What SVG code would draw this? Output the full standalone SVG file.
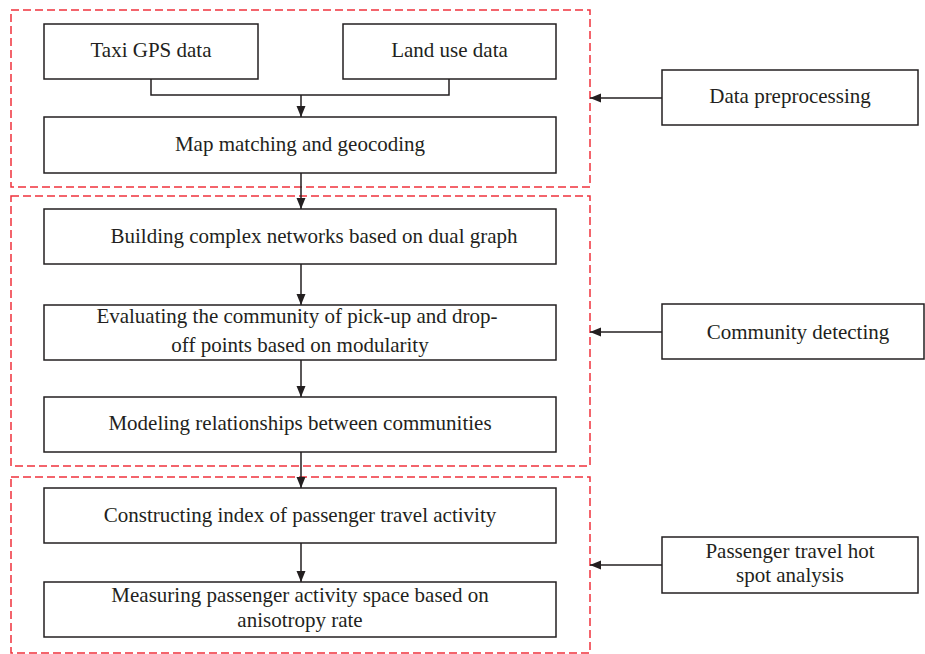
<svg xmlns="http://www.w3.org/2000/svg" width="925" height="654" viewBox="0 0 925 654">
<style>
.grp{fill:none;stroke:#f0323c;stroke-width:1.5;stroke-dasharray:8 4}
.box{fill:#fff;stroke:#231f20;stroke-width:1.5}
.ln{fill:none;stroke:#231f20;stroke-width:1.5}
text{font-family:"Liberation Serif","Times New Roman",serif;font-size:21px;fill:#231f20;text-anchor:middle}
</style>
<defs>
<marker id="ah" viewBox="0 0 11 10" refX="11" refY="5" markerWidth="11" markerHeight="10" markerUnits="userSpaceOnUse" orient="auto">
<path d="M0,0.5 L11,5 L0,9.5 Z" fill="#231f20"/>
</marker>
</defs>
<g id="groups">
<rect class="grp" x="11" y="10" width="579" height="177"/>
<rect class="grp" x="11" y="196" width="579" height="270"/>
<rect class="grp" x="11" y="477" width="579" height="176"/>
</g>
<g id="connectors">
<polyline class="ln" points="151,79 151,95 449,95 449,79"/>
<line class="ln" x1="301" y1="95" x2="301" y2="117" marker-end="url(#ah)"/>
<line class="ln" x1="301" y1="173" x2="301" y2="209" marker-end="url(#ah)"/>
<line class="ln" x1="301" y1="264" x2="301" y2="305" marker-end="url(#ah)"/>
<line class="ln" x1="301" y1="360" x2="301" y2="397" marker-end="url(#ah)"/>
<line class="ln" x1="301" y1="452" x2="301" y2="488" marker-end="url(#ah)"/>
<line class="ln" x1="301" y1="543" x2="301" y2="582" marker-end="url(#ah)"/>
<line class="ln" x1="662" y1="98" x2="590" y2="98" marker-end="url(#ah)"/>
<line class="ln" x1="662" y1="332" x2="590" y2="332" marker-end="url(#ah)"/>
<line class="ln" x1="662" y1="565" x2="590" y2="565" marker-end="url(#ah)"/>
</g>
<g id="taxi"><rect class="box" x="44" y="24" width="214" height="55"/><text x="151" y="57">Taxi GPS data</text></g>
<g id="landuse"><rect class="box" x="343" y="24" width="213" height="55"/><text x="449.5" y="57">Land use data</text></g>
<g id="mapmatch"><rect class="box" x="44" y="117" width="512" height="56"/><text x="300" y="151">Map matching and geocoding</text></g>
<g id="building"><rect class="box" x="44" y="209" width="512" height="55"/><text x="314" y="243">Building complex networks based on dual graph</text></g>
<g id="evaluating"><rect class="box" x="44" y="305" width="512" height="55"/><text x="297" y="323">Evaluating the community of pick-up and drop-</text><text x="300" y="352">off points based on modularity</text></g>
<g id="modeling"><rect class="box" x="44" y="397" width="512" height="55"/><text x="300" y="430">Modeling relationships between communities</text></g>
<g id="constructing"><rect class="box" x="44" y="488" width="512" height="55"/><text x="300" y="522">Constructing index of passenger travel activity</text></g>
<g id="measuring"><rect class="box" x="44" y="582" width="512" height="55"/><text x="300" y="602">Measuring passenger activity space based on</text><text x="300" y="627">anisotropy rate</text></g>
<g id="preprocessing"><rect class="box" x="662" y="70" width="256" height="55"/><text x="790" y="103">Data preprocessing</text></g>
<g id="community"><rect class="box" x="662" y="304" width="262" height="55"/><text x="798" y="339">Community detecting</text></g>
<g id="hotspot"><rect class="box" x="662" y="537" width="256" height="56"/><text x="790" y="558">Passenger travel hot</text><text x="790" y="582">spot analysis</text></g>
</svg>
